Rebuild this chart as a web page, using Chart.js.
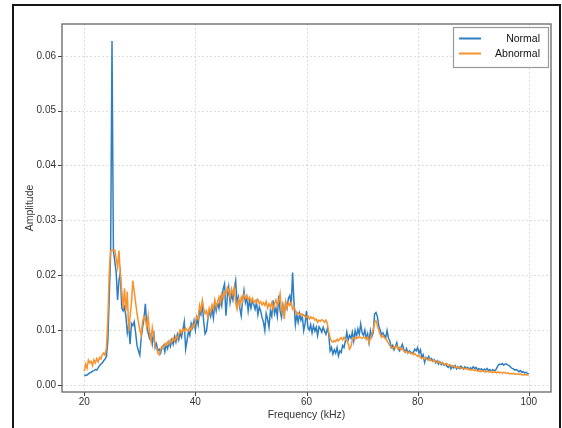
<!DOCTYPE html>
<html>
<head>
<meta charset="utf-8">
<script src="https://cdn.jsdelivr.net/npm/chart.js@4.4.1/dist/chart.umd.min.js"></script>
<style>
  html, body { margin: 0; padding: 0; background: #ffffff; }
  #wrap { position: relative; width: 562px; height: 428px; }
  canvas { display: block; }
</style>
</head>
<body>
<div id="wrap"><canvas id="c" width="562" height="428"></canvas></div>
<script>
// ---- data ----
const freqStartKHz = 20;
const freqStepKHz = 0.25;

const normal = [
  0.0018, 0.0017, 0.0018, 0.0020,
  0.0022, 0.0023, 0.0025, 0.0026,
  0.0028, 0.0027, 0.0031, 0.0035,
  0.0038, 0.0040, 0.0044, 0.0047,
  0.0052, 0.0080, 0.0160, 0.0240,
  0.0627, 0.0245, 0.0225, 0.0205,
  0.0155, 0.0190, 0.0205, 0.0140,
  0.0135, 0.0142, 0.0125, 0.0095,
  0.0110, 0.0074, 0.0112, 0.0108,
  0.0115, 0.0095, 0.0072, 0.0062,
  0.0054, 0.0085, 0.0105, 0.0120,
  0.0148, 0.0110, 0.0095, 0.0085,
  0.0092, 0.0075, 0.0098, 0.0068,
  0.0075, 0.0062, 0.0065, 0.0058,
  0.0068, 0.0072, 0.0060, 0.0074,
  0.0066, 0.0078, 0.0070, 0.0082,
  0.0074, 0.0088, 0.0078, 0.0092,
  0.0082, 0.0095, 0.0087, 0.0100,
  0.0115, 0.0065, 0.0080, 0.0098,
  0.0090, 0.0112, 0.0104, 0.0117,
  0.0100, 0.0122, 0.0110, 0.0135,
  0.0128, 0.0148, 0.0115, 0.0093,
  0.0098, 0.0120, 0.0135, 0.0125,
  0.0140, 0.0122, 0.0150, 0.0135,
  0.0150, 0.0140, 0.0158, 0.0145,
  0.0175, 0.0184, 0.0126, 0.0160,
  0.0178, 0.0150, 0.0165, 0.0155,
  0.0175, 0.0190, 0.0150, 0.0160,
  0.0140, 0.0126, 0.0155, 0.0172,
  0.0150, 0.0160, 0.0135, 0.0155,
  0.0140, 0.0152, 0.0148, 0.0138,
  0.0150, 0.0128, 0.0142, 0.0135,
  0.0123, 0.0115, 0.0099, 0.0130,
  0.0120, 0.0105, 0.0135, 0.0125,
  0.0154, 0.0130, 0.0140, 0.0125,
  0.0163, 0.0135, 0.0123, 0.0145,
  0.0130, 0.0150, 0.0140, 0.0158,
  0.0163, 0.0145, 0.0205, 0.0150,
  0.0110, 0.0128, 0.0114, 0.0130,
  0.0118, 0.0125, 0.0099, 0.0112,
  0.0135, 0.0105, 0.0100, 0.0110,
  0.0095, 0.0108, 0.0098, 0.0105,
  0.0090, 0.0106, 0.0102, 0.0096,
  0.0105, 0.0098, 0.0092, 0.0103,
  0.0093, 0.0062, 0.0068, 0.0056,
  0.0064, 0.0058, 0.0068, 0.0053,
  0.0062, 0.0059, 0.0072, 0.0068,
  0.0080, 0.0096, 0.0082, 0.0090,
  0.0085, 0.0096, 0.0080, 0.0099,
  0.0088, 0.0102, 0.0092, 0.0111,
  0.0095, 0.0090, 0.0100, 0.0085,
  0.0093, 0.0077, 0.0099, 0.0088,
  0.0095, 0.0129, 0.0132, 0.0125,
  0.0108, 0.0100, 0.0092, 0.0095,
  0.0090, 0.0086, 0.0099, 0.0085,
  0.0080, 0.0068, 0.0072, 0.0064,
  0.0070, 0.0077, 0.0066, 0.0062,
  0.0068, 0.0074, 0.0065, 0.0060,
  0.0066, 0.0058, 0.0062, 0.0060,
  0.0057, 0.0060, 0.0065, 0.0062,
  0.0068, 0.0058, 0.0064, 0.0050,
  0.0055, 0.0041, 0.0050, 0.0047,
  0.0052, 0.0045, 0.0048, 0.0043,
  0.0046, 0.0040, 0.0044, 0.0038,
  0.0042, 0.0037, 0.0040, 0.0036,
  0.0038, 0.0034, 0.0032, 0.0036,
  0.0029, 0.0034, 0.0031, 0.0035,
  0.0029, 0.0033, 0.0030, 0.0034,
  0.0032, 0.0029, 0.0033, 0.0030,
  0.0032, 0.0028, 0.0031, 0.0029,
  0.0033, 0.0030, 0.0032, 0.0027,
  0.0030, 0.0028, 0.0029, 0.0026,
  0.0029, 0.0027, 0.0030, 0.0026,
  0.0028, 0.0025, 0.0028, 0.0026,
  0.0026, 0.0031, 0.0036, 0.0038,
  0.0037, 0.0039, 0.0036, 0.0038,
  0.0038, 0.0036, 0.0035, 0.0032,
  0.0030, 0.0029, 0.0027, 0.0028,
  0.0026, 0.0024, 0.0026, 0.0023,
  0.0024, 0.0022, 0.0023, 0.0021,
  0.0020
];

const abnormal = [
  0.0025, 0.0038, 0.0030, 0.0045,
  0.0040, 0.0043, 0.0035, 0.0046,
  0.0040, 0.0048, 0.0042, 0.0050,
  0.0047, 0.0055, 0.0058, 0.0054,
  0.0068, 0.0120, 0.0205, 0.0245,
  0.0246, 0.0245, 0.0246, 0.0230,
  0.0215, 0.0245, 0.0200, 0.0172,
  0.0140, 0.0176, 0.0135, 0.0170,
  0.0098, 0.0125, 0.0150, 0.0190,
  0.0170, 0.0150, 0.0130, 0.0115,
  0.0100, 0.0090, 0.0115, 0.0125,
  0.0120, 0.0105, 0.0125, 0.0095,
  0.0080, 0.0105, 0.0090, 0.0070,
  0.0068, 0.0058, 0.0055, 0.0065,
  0.0070, 0.0068, 0.0075, 0.0072,
  0.0078, 0.0074, 0.0082, 0.0078,
  0.0085, 0.0080, 0.0088, 0.0084,
  0.0092, 0.0100, 0.0095, 0.0102,
  0.0098, 0.0104, 0.0100, 0.0098,
  0.0105, 0.0100, 0.0110, 0.0106,
  0.0115, 0.0125, 0.0120, 0.0145,
  0.0135, 0.0154, 0.0140, 0.0130,
  0.0135, 0.0123, 0.0140, 0.0132,
  0.0146, 0.0138, 0.0155, 0.0142,
  0.0150, 0.0160, 0.0148, 0.0166,
  0.0158, 0.0170, 0.0165, 0.0178,
  0.0172, 0.0160, 0.0175, 0.0165,
  0.0178, 0.0150, 0.0138, 0.0155,
  0.0145, 0.0160, 0.0152, 0.0165,
  0.0158, 0.0162, 0.0155, 0.0160,
  0.0152, 0.0158, 0.0150, 0.0154,
  0.0150, 0.0156, 0.0148, 0.0152,
  0.0146, 0.0150, 0.0145, 0.0152,
  0.0140, 0.0148, 0.0142, 0.0150,
  0.0138, 0.0148, 0.0155, 0.0145,
  0.0152, 0.0166, 0.0135, 0.0145,
  0.0120, 0.0152, 0.0140, 0.0150,
  0.0145, 0.0150, 0.0138, 0.0142,
  0.0135, 0.0129, 0.0132, 0.0128,
  0.0130, 0.0126, 0.0128, 0.0124,
  0.0123, 0.0126, 0.0120, 0.0124,
  0.0121, 0.0123, 0.0118, 0.0120,
  0.0114, 0.0118, 0.0116, 0.0119,
  0.0117, 0.0114, 0.0118, 0.0112,
  0.0096, 0.0086, 0.0080, 0.0078,
  0.0081, 0.0079, 0.0083, 0.0080,
  0.0084, 0.0086, 0.0082, 0.0087,
  0.0083, 0.0080, 0.0075, 0.0065,
  0.0070, 0.0082, 0.0086, 0.0084,
  0.0087, 0.0085, 0.0088, 0.0086,
  0.0085, 0.0087, 0.0086, 0.0084,
  0.0087, 0.0077, 0.0085, 0.0092,
  0.0100, 0.0114, 0.0117, 0.0108,
  0.0100, 0.0092, 0.0087, 0.0090,
  0.0086, 0.0084, 0.0080, 0.0076,
  0.0072, 0.0068, 0.0066, 0.0070,
  0.0068, 0.0072, 0.0065, 0.0068,
  0.0064, 0.0066, 0.0062, 0.0060,
  0.0061, 0.0058, 0.0060, 0.0057,
  0.0058, 0.0055, 0.0057, 0.0054,
  0.0052, 0.0054, 0.0050, 0.0048,
  0.0050, 0.0047, 0.0049, 0.0046,
  0.0045, 0.0047, 0.0044, 0.0043,
  0.0045, 0.0042, 0.0041, 0.0043,
  0.0040, 0.0039, 0.0041, 0.0038,
  0.0037, 0.0039, 0.0036, 0.0035,
  0.0036, 0.0033, 0.0035, 0.0032,
  0.0032, 0.0031, 0.0033, 0.0030,
  0.0030, 0.0031, 0.0029, 0.0030,
  0.0028, 0.0029, 0.0027, 0.0028,
  0.0027, 0.0026, 0.0028, 0.0025,
  0.0026, 0.0024, 0.0026, 0.0025,
  0.0025, 0.0023, 0.0025, 0.0024,
  0.0023, 0.0025, 0.0022, 0.0024,
  0.0023, 0.0022, 0.0024, 0.0022,
  0.0023, 0.0021, 0.0023, 0.0022,
  0.0021, 0.0022, 0.0020, 0.0021,
  0.0020, 0.0021, 0.0019, 0.0020,
  0.0020, 0.0019, 0.0020, 0.0018,
  0.0019, 0.0018, 0.0019, 0.0018,
  0.0018
];

const seriesLabels = ['Normal', 'Abnormal'];
const xTickValues = [20, 40, 60, 80, 100];
const yTickValues = [0.00, 0.01, 0.02, 0.03, 0.04, 0.05, 0.06];
const xTitle = 'Frequency (kHz)';
const yTitle = 'Amplitude';

// ---- build ----
const freqKHz = normal.map((_, i) => freqStartKHz + i * freqStepKHz);
const toPts = arr => arr.map((v, i) => ({ x: freqKHz[i], y: v }));

const FONT = "'Liberation Sans', Arial, sans-serif";
const COLORS = ['#2f7ec2', '#f7922d'];

const framePlugin = {
  id: 'framePlugin',
  beforeDatasetsDraw(chart) {
    const { ctx, chartArea: a, scales } = chart;
    ctx.save();
    ctx.strokeStyle = '#d6d6d6';
    ctx.lineWidth = 0.8;
    ctx.setLineDash([2, 2]);
    xTickValues.forEach(v => {
      const px = Math.round(scales.x.getPixelForValue(v)) + 0.5;
      ctx.beginPath(); ctx.moveTo(px, a.top); ctx.lineTo(px, a.bottom); ctx.stroke();
    });
    yTickValues.forEach(v => {
      const py = Math.round(scales.y.getPixelForValue(v)) + 0.5;
      ctx.beginPath(); ctx.moveTo(a.left, py); ctx.lineTo(a.right, py); ctx.stroke();
    });
    ctx.restore();
  },
  afterDraw(chart) {
    const { ctx, chartArea: a, scales } = chart;
    ctx.save();
    // tick marks
    ctx.strokeStyle = '#444';
    ctx.lineWidth = 1;
    ctx.setLineDash([]);
    xTickValues.forEach(v => {
      const px = Math.round(scales.x.getPixelForValue(v)) + 0.5;
      ctx.beginPath(); ctx.moveTo(px, a.bottom); ctx.lineTo(px, a.bottom + 4); ctx.stroke();
    });
    yTickValues.forEach(v => {
      const py = Math.round(scales.y.getPixelForValue(v)) + 0.5;
      ctx.beginPath(); ctx.moveTo(a.left - 4, py); ctx.lineTo(a.left, py); ctx.stroke();
    });
    // plot frame
    ctx.strokeStyle = '#666';
    ctx.lineWidth = 1.3;
    ctx.strokeRect(a.left, a.top, a.right - a.left, a.bottom - a.top);
    // legend
    const lx = 453, ly = 27, lw = 95, lh = 40;
    ctx.fillStyle = 'rgba(255,255,255,0.9)';
    ctx.fillRect(lx, ly, lw, lh);
    ctx.strokeStyle = '#999';
    ctx.lineWidth = 1.2;
    ctx.strokeRect(lx + 0.5, ly + 0.5, lw, lh);
    ctx.font = '10.5px ' + FONT;
    ctx.textAlign = 'right';
    ctx.textBaseline = 'middle';
    chart.data.datasets.forEach((ds, i) => {
      const yy = ly + 11.5 + i * 15;
      ctx.strokeStyle = ds.borderColor;
      ctx.lineWidth = 2;
      ctx.beginPath(); ctx.moveTo(lx + 6, yy); ctx.lineTo(lx + 28, yy); ctx.stroke();
      ctx.fillStyle = '#111';
      ctx.fillText(ds.label, lx + 87, yy + 0.5);
    });
    // outer picture border
    ctx.strokeStyle = '#151515';
    ctx.lineWidth = 2;
    ctx.strokeRect(13, 5, 547, 424);
    ctx.restore();
  }
};

new Chart(document.getElementById('c'), {
  type: 'line',
  data: {
    datasets: [
      { label: seriesLabels[0], data: toPts(normal), borderColor: COLORS[0], backgroundColor: COLORS[0],
        borderWidth: 1.5, pointRadius: 0, tension: 0, order: 2 },
      { label: seriesLabels[1], data: toPts(abnormal), borderColor: COLORS[1], backgroundColor: COLORS[1],
        borderWidth: 1.5, pointRadius: 0, tension: 0, order: 1 }
    ]
  },
  options: {
    responsive: false,
    animation: false,
    devicePixelRatio: 1,
    layout: { padding: { left: 0, top: 24, right: 11, bottom: 0 } },
    plugins: { legend: { display: false }, tooltip: { enabled: false } },
    scales: {
      x: {
        type: 'linear', min: 16, max: 104,
        afterBuildTicks: s => { s.ticks = xTickValues.map(v => ({ value: v })); },
        afterFit: s => { s.height = 36; },
        grid: { display: false, drawTicks: false }, border: { display: false },
        ticks: { font: { family: FONT, size: 10 }, color: '#333', padding: 4, maxRotation: 0, autoSkip: false },
        title: { display: true, text: xTitle, font: { family: FONT, size: 10.5 }, color: '#333',
                 padding: { top: 0, bottom: 7 } }
      },
      y: {
        type: 'linear', min: -0.0013, max: 0.0658,
        afterBuildTicks: s => { s.ticks = yTickValues.map(v => ({ value: v })); },
        afterFit: s => { s.width = 62; },
        grid: { display: false, drawTicks: false }, border: { display: false },
        ticks: { font: { family: FONT, size: 10 }, color: '#333', padding: 6, autoSkip: false,
                 callback: v => Number(v).toFixed(2) },
        title: { display: true, text: yTitle, font: { family: FONT, size: 10.5 }, color: '#333',
                 padding: { top: 24, bottom: 0 } }
      }
    }
  },
  plugins: [framePlugin]
});
</script>
</body>
</html>
